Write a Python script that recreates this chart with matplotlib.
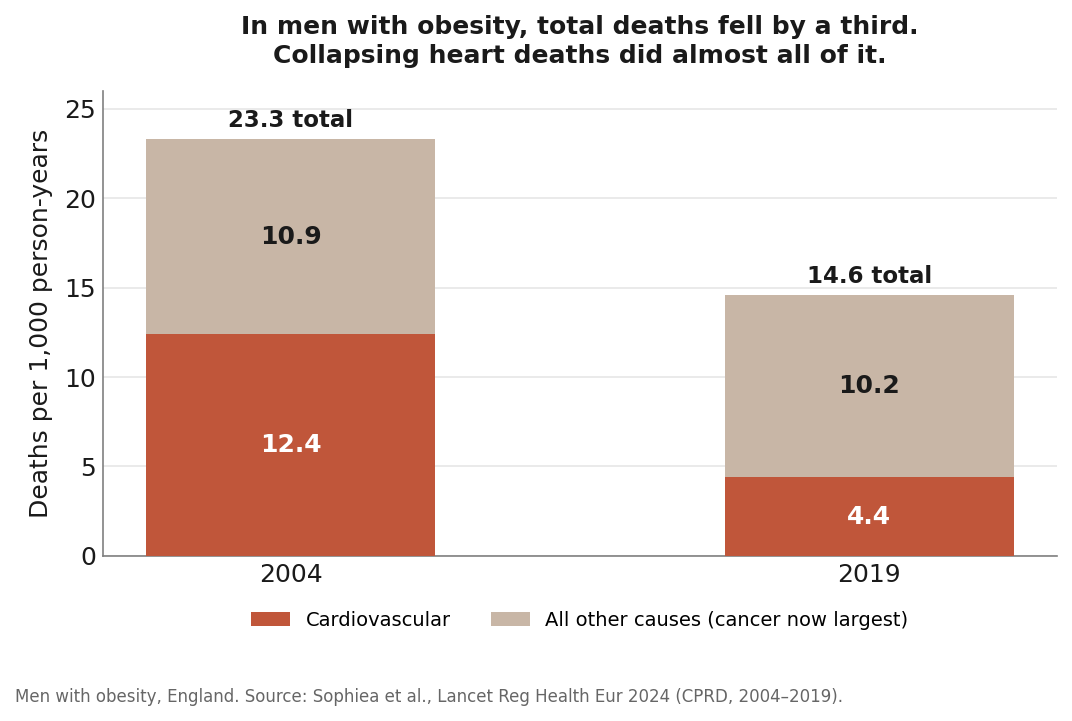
import numpy as np
import matplotlib.pyplot as plt

years = ["2004", "2019"]
cardio = [12.4, 4.4]
other = [10.9, 10.2]
totals = [23.3, 14.6]

c_cardio = "#c0563a"
c_other = "#c8b6a6"
dark = "#1a1a1a"

fig, ax = plt.subplots(figsize=(10.72, 7.21), dpi=100)
fig.subplots_adjust(left=0.096, right=0.986, top=0.874, bottom=0.229)

x = np.arange(len(years))
width = 0.5
ax.bar(x, cardio, width, color=c_cardio, label="Cardiovascular", zorder=3)
ax.bar(x, other, width, bottom=cardio, color=c_other,
       label="All other causes (cancer now largest)", zorder=3)

# segment labels + totals
for i in range(len(years)):
    ax.text(x[i], cardio[i] / 2, f"{cardio[i]:.1f}", ha="center", va="center",
            color="white", fontsize=18, fontweight="bold", zorder=4)
    ax.text(x[i], cardio[i] + other[i] / 2, f"{other[i]:.1f}", ha="center", va="center",
            color=dark, fontsize=18, fontweight="bold", zorder=4)
    ax.text(x[i], totals[i] + 0.4, f"{totals[i]:.1f} total", ha="center", va="bottom",
            color=dark, fontsize=16.5, fontweight="bold", zorder=4)

ax.set_xticks(x)
ax.set_xticklabels(years)
ax.set_ylim(0, 26)
ax.set_yticks([0, 5, 10, 15, 20, 25])
ax.tick_params(axis="x", length=0, labelsize=18, colors=dark, pad=5)
ax.tick_params(axis="y", length=0, labelsize=18, colors=dark, pad=5)
ax.set_ylabel("Deaths per 1,000 person-years", fontsize=18, color=dark, labelpad=8)
ax.grid(axis="y", color="#e6e6e6", linewidth=1.2, zorder=0)
ax.set_axisbelow(True)
for s in ["top", "right"]:
    ax.spines[s].set_visible(False)
for s in ["left", "bottom"]:
    ax.spines[s].set_color("#808080")
    ax.spines[s].set_linewidth(1.2)

ax.set_title("In men with obesity, total deaths fell by a third.\n"
             "Collapsing heart deaths did almost all of it.",
             fontsize=18, fontweight="bold", color=dark, pad=20, linespacing=1.25)

ax.legend(loc="upper center", bbox_to_anchor=(0.5, -0.081), ncol=2, frameon=False,
          fontsize=14, handlelength=2.0, handleheight=0.7, columnspacing=2.05)

fig.text(0.014, 0.033, "Men with obesity, England. Source: Sophiea et al., Lancet Reg Health Eur 2024 (CPRD, 2004\u20132019).",
         fontsize=12, color="#666666", ha="left", va="center")

fig.savefig("out.png", dpi=100)
